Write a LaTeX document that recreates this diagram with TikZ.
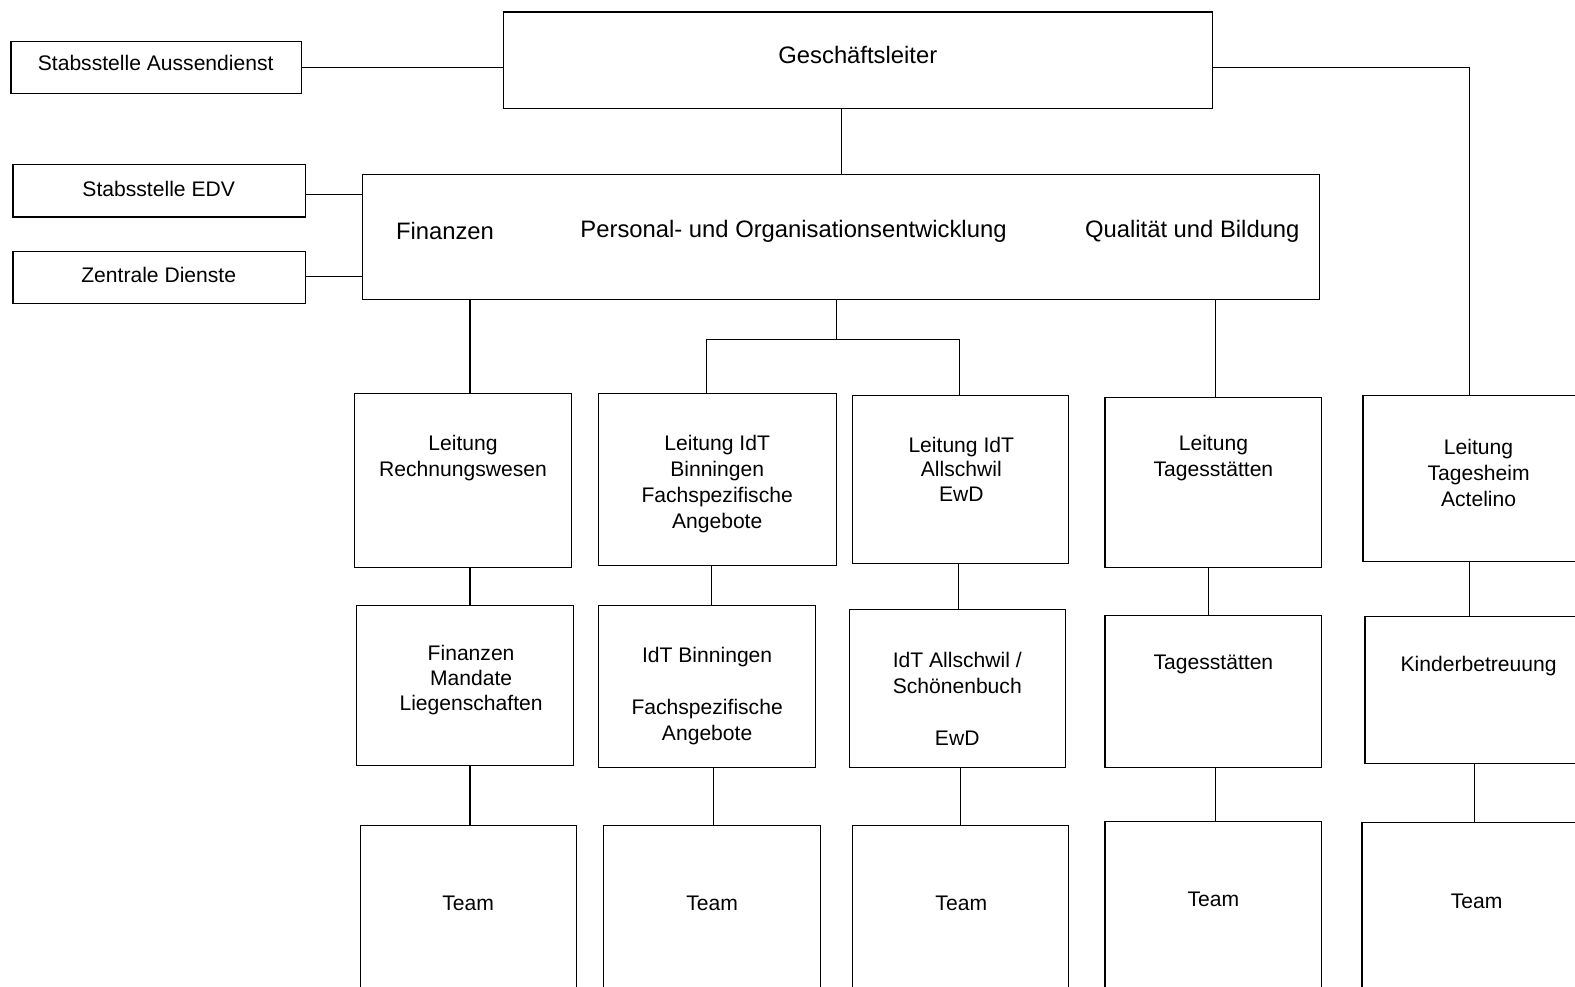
\documentclass[tikz,border=0pt]{standalone}
\usepackage{fontspec}
\setmainfont{Liberation Sans}
\usetikzlibrary{fit}
\tikzset{
  box/.style={draw, line width=1.2pt, inner sep=0pt, rectangle},
  conn/.style={line width=1.2pt},
  small/.style={inner sep=0pt, align=center, font=\fontsize{21}{26}\selectfont},
  smalltight/.style={inner sep=0pt, align=center, font=\fontsize{21}{24.5}\selectfont},
  big/.style={inner sep=0pt, align=center, font=\fontsize{23.7}{28}\selectfont}
}
\newcommand{\bx}[5]{\node[box, fit={(#2,#3) (#4,#5)}] (#1) {};}
\begin{document}
\begin{tikzpicture}[x=1pt, y=-1pt]
\clip (0,0) rectangle (1568,982);
\fill[white] (0,0) rectangle (1568,982);
% boxes
\bx{GL}{501}{12}{1207}{108}
\bx{SA}{11}{41}{300}{93}
\bx{EDV}{13}{164}{304}{216}
\bx{ZD}{13}{250}{304}{302}
\bx{BIG}{361}{174}{1314}{298}
\bx{LR}{353}{392}{569}{565}
\bx{LB}{596}{392}{833}{563}
\bx{LA}{849}{394}{1064}{561}
\bx{LT}{1100}{396}{1316}{565}
\bx{LH}{1357}{394}{1590}{559}
\bx{FM}{355}{603}{571}{762}
\bx{IB}{596}{603}{812}{764}
\bx{IA}{846}{607}{1061}{764}
\bx{TS}{1100}{613}{1316}{764}
\bx{KB}{1359}{614}{1590}{760}
\bx{T1}{359}{822}{574}{1000}
\bx{T2}{601}{822}{817}{1000}
\bx{T3}{849}{822}{1064}{1000}
\bx{T4}{1100}{818}{1316}{1000}
\bx{T5}{1356}{819}{1590}{1000}
% texts
\node[big] (tGL) at (854,55) {Geschäftsleiter};
\node[small] (tSA) at (155,63) {Stabsstelle Aussendienst};
\node[small] (tEDV) at (158,188) {Stabsstelle EDV};
\node[small] (tZD) at (158,274) {Zentrale Dienste};
\node[big] (tB1) at (443,230) {Finanzen};
\node[big] (tB2) at (790,230) {Personal- und Organisationsentwicklung};
\node[big] (tB3) at (1187,230) {Qualität und Bildung};
\node[small] (tLR) at (461,456) {Leitung\\Rechnungswesen};
\node[small] (tLB) at (714,482) {Leitung IdT\\Binningen\\Fachspezifische\\Angebote};
\node[smalltight] (tLA) at (957,467) {Leitung IdT\\Allschwil\\EwD};
\node[small] (tLT) at (1208,456) {Leitung\\Tagesstätten};
\node[small] (tLH) at (1472,471) {Leitung\\Tagesheim\\Actelino};
\node[smalltight] (tFM) at (469,677) {Finanzen\\Mandate\\Liegenschaften};
\node[small] (tIB) at (704,693) {IdT Binningen\\~\\Fachspezifische\\Angebote};
\node[small] (tIA) at (953,696) {IdT Allschwil /\\Schönenbuch\\~\\EwD};
\node[small] (tTS) at (1208,661) {Tagesstätten};
\node[small] (tKB) at (1472,663) {Kinderbetreuung};
\node[small] (tT1) at (466,899) {Team};
\node[small] (tT2) at (709,899) {Team};
\node[small] (tT3) at (957,899) {Team};
\node[small] (tT4) at (1208,895) {Team};
\node[small] (tT5) at (1470,897) {Team};
% connectors
\coordinate (j1) at (1463,67);
\draw[conn] (SA.east |- j1) -- (GL.west |- j1);
\draw[conn] (GL.east |- j1) -- (j1) -- (j1 |- LH.north);
\coordinate (j2) at (838,140);
\draw[conn] (GL.south -| j2) -- (j2 |- BIG.north);
\draw[conn] (EDV.east |- 0,194) -- (BIG.west |- 0,194);
\draw[conn] (ZD.east |- 0,275) -- (BIG.west |- 0,275);
\coordinate (j3) at (468,350);
\draw[conn] (BIG.south -| j3) -- (j3 |- LR.north);
\coordinate (j4) at (833,338);
\coordinate (j5) at (703,338);
\coordinate (j6) at (955,338);
\draw[conn] (BIG.south -| j4) -- (j4);
\draw[conn] (j5 |- LB.north) -- (j5) -- (j6) -- (j6 |- LA.north);
\coordinate (j7) at (1210,350);
\draw[conn] (BIG.south -| j7) -- (j7 |- LT.north);
% row 2 -> row 3
\coordinate (k1) at (468,580);
\coordinate (k2) at (708,580);
\coordinate (k3) at (954,580);
\coordinate (k4) at (1203,580);
\coordinate (k5) at (1463,580);
\draw[conn] (LR.south -| k1) -- (k1 |- FM.north);
\draw[conn] (LB.south -| k2) -- (k2 |- IB.north);
\draw[conn] (LA.south -| k3) -- (k3 |- IA.north);
\draw[conn] (LT.south -| k4) -- (k4 |- TS.north);
\draw[conn] (LH.south -| k5) -- (k5 |- KB.north);
% row 3 -> team
\coordinate (m1) at (468,790);
\coordinate (m2) at (710,790);
\coordinate (m3) at (956,790);
\coordinate (m4) at (1210,790);
\coordinate (m5) at (1468,790);
\draw[conn] (FM.south -| m1) -- (m1 |- T1.north);
\draw[conn] (IB.south -| m2) -- (m2 |- T2.north);
\draw[conn] (IA.south -| m3) -- (m3 |- T3.north);
\draw[conn] (TS.south -| m4) -- (m4 |- T4.north);
\draw[conn] (KB.south -| m5) -- (m5 |- T5.north);
\end{tikzpicture}
\end{document}
